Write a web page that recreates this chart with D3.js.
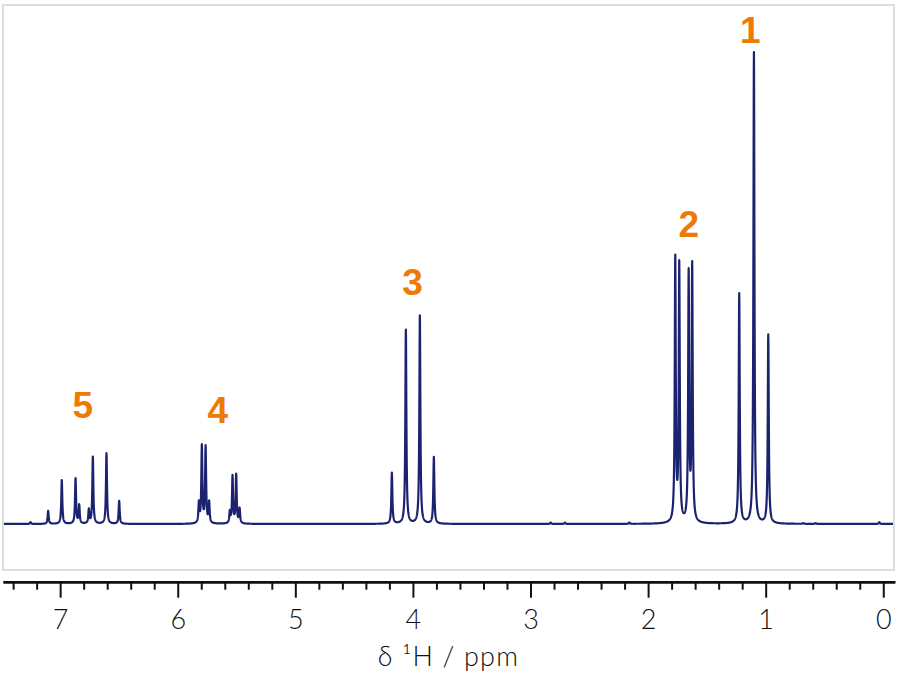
<!DOCTYPE html>
<html>
<head>
<meta charset="utf-8">
<script src="https://cdn.jsdelivr.net/npm/d3@7/dist/d3.min.js"></script>
<style>
  html, body { margin: 0; padding: 0; background: #fff; }
  svg { display: block; }
</style>
</head>
<body>
<svg id="chart" width="909" height="678"></svg>
<script>
// ---------- data ----------
// peak positions (ppm) and peak heights (relative intensity, tallest = 1)
const peakPpm = [
  7.252, 7.102, 6.986, 6.869, 6.838, 6.756, 6.722, 6.606, 6.498,      // group 5
  5.820, 5.795, 5.763, 5.733, 5.557, 5.534, 5.503, 5.474,             // group 4
  4.179, 4.060, 3.941, 3.822,                                         // group 3
  1.769, 1.735, 1.655, 1.625,                                         // group 2
  1.225, 1.100, 0.978,                                                // group 1
  2.829, 2.707, 2.160, 0.680, 0.575, 0.034                            // small impurities
];
const peakHeight = [
  0.004, 0.028, 0.093, 0.097, 0.042, 0.033, 0.143, 0.150, 0.049,
  0.050, 0.169, 0.167, 0.050, 0.030, 0.104, 0.107, 0.035,
  0.109, 0.412, 0.442, 0.142,
  0.571, 0.559, 0.542, 0.557,
  0.489, 1.000, 0.402,
  0.003, 0.003, 0.003, 0.002, 0.002, 0.004
];
const lineWidthPpm = 0.0102;           // Lorentzian FWHM

const labelText = ["1", "2", "3", "4", "5"];
const labelPpm = [1.130, 1.655, 4.004, 5.659, 6.807];
const labelIntensity = [1.019, 0.607, 0.485, 0.2146, 0.2246];

const majorTicks = [7, 6, 5, 4, 3, 2, 1, 0];
const minorTicks = [7.4, 7.2, 6.8, 6.6, 6.4, 6.2, 5.8, 5.6, 5.4, 5.2, 4.8, 4.6, 4.4, 4.2,
                    3.8, 3.6, 3.4, 3.2, 2.8, 2.6, 2.4, 2.2, 1.8, 1.6, 1.4, 1.2, 0.8, 0.6, 0.4, 0.2];
const xDomain = [7.486, -0.098];
const yDomain = [-0.0975, 1.0996];
const axisTitle = "δ ¹H / ppm";

// ---------- layout ----------
const svg = d3.select("#chart");
const box = { x0: 3, y0: 5, x1: 894.8, y1: 570 };
const x = d3.scaleLinear().domain(xDomain).range([box.x0, box.x1]);
const y = d3.scaleLinear().domain(yDomain).range([box.y1, box.y0]);

// Lorentzian line shape
const lor = d => 1 / (1 + Math.pow(2 * d / lineWidthPpm, 2));

// amplitudes so that the summed spectrum reaches the read heights at the peak centres
let amp = peakHeight.slice();
for (let it = 0; it < 40; it++) {
  amp = peakHeight.map((h, i) => {
    let s = 0;
    peakPpm.forEach((p, j) => { if (j !== i) s += amp[j] * lor(peakPpm[i] - p); });
    return Math.max(0, h - s);
  });
}
const spectrumAt = p => peakPpm.reduce((s, c, j) => s + amp[j] * lor(p - c), 0);

// sample points: fine grid plus exact peak centres
const pts = [];
for (let p = xDomain[0]; p >= xDomain[1]; p -= 0.001) pts.push(p);
peakPpm.forEach(p => pts.push(p));
pts.sort((a, b) => b - a);
const spectrum = pts.map(p => [p, spectrumAt(p)]);

// frame
svg.append("rect")
  .attr("x", box.x0).attr("y", box.y0)
  .attr("width", box.x1 - box.x0 - 0.8).attr("height", box.y1 - box.y0)
  .attr("fill", "none").attr("stroke", "#dddddd").attr("stroke-width", 2);

svg.append("clipPath").attr("id", "clip")
  .append("rect").attr("x", box.x0 + 1).attr("y", box.y0 + 1)
  .attr("width", box.x1 - box.x0 - 2.8).attr("height", box.y1 - box.y0 - 2);

// spectrum line
svg.append("path")
  .datum(spectrum)
  .attr("clip-path", "url(#clip)")
  .attr("fill", "none")
  .attr("stroke", "#1b2270")
  .attr("stroke-width", 2.2)
  .attr("stroke-linejoin", "round")
  .attr("d", d3.line().x(d => x(d[0])).y(d => y(d[1])));

// peak labels
svg.append("g").selectAll("text")
  .data(labelText)
  .join("text")
  .attr("x", (d, i) => x(labelPpm[i]))
  .attr("y", (d, i) => y(labelIntensity[i]))
  .attr("text-anchor", "middle")
  .attr("font-family", "Liberation Sans, Arial, sans-serif")
  .attr("font-weight", "bold")
  .attr("font-size", 37)
  .attr("fill", "#ee7a05")
  .text(d => d);

// x axis
const axisY = 581.7;
const gMinor = svg.append("g").attr("transform", `translate(0,${axisY})`)
  .call(d3.axisBottom(x).tickValues(minorTicks).tickSize(8).tickSizeOuter(0).tickFormat(""));
const gMajor = svg.append("g").attr("transform", `translate(0,${axisY})`)
  .call(d3.axisBottom(x).tickValues(majorTicks).tickSize(16).tickSizeOuter(0).tickPadding(12)
    .tickFormat(d3.format("d")));
[gMinor, gMajor].forEach(g => {
  g.selectAll("path.domain").attr("stroke", "#111").attr("stroke-width", 2.6);
  g.selectAll(".tick line").attr("stroke", "#111").attr("stroke-width", 2);
});
gMajor.selectAll(".tick text")
  .attr("font-family", "Lato, sans-serif")
  .attr("font-weight", 300)
  .attr("font-size", 27)
  .attr("fill", "#111");

svg.append("text")
  .attr("x", 448.5).attr("y", 666)
  .attr("text-anchor", "middle")
  .attr("font-family", "Lato, sans-serif")
  .attr("font-weight", 300)
  .attr("font-size", 27)
  .attr("letter-spacing", 1.2)
  .attr("fill", "#111")
  .text(axisTitle);
</script>
</body>
</html>
